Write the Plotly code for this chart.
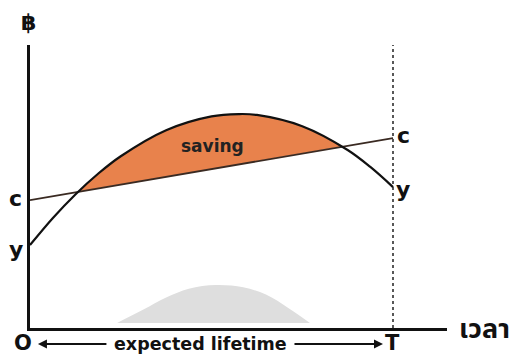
import plotly.graph_objects as go

# life-cycle income vs consumption (arbitrary units)
age_income = [0, 5, 10, 15, 20, 30, 40, 46, 50, 60, 70, 75, 80]
income = [29.3, 38.8, 47.2, 54.5, 60.7, 69.9, 74.8, 75.6, 75.3, 71.3, 62.9, 56.9, 49.8]

age_cons = [0, 80]
consumption = [45.2, 67.1]

# saving region: income above consumption
saving_age = [11, 15, 20, 30, 40, 46, 50, 60, 69]
saving_income = [48.3, 54.5, 60.7, 69.9, 74.8, 75.6, 75.3, 71.3, 64.2]
saving_cons_age = [11, 69]
saving_cons = [48.3, 64.2]

# faint grey watermark hump at the bottom
mark_age = [19.2, 25, 30, 35, 41, 47, 52, 57, 61.7]
mark_val = [1.8, 6.5, 10.8, 13.9, 15.2, 14.4, 11.8, 7.0, 1.8]

T = 80
x_max = 91.9
y_max = 100

FONT = "DejaVu Sans, Verdana, sans-serif"

fig = go.Figure()

fig.add_trace(go.Scatter(x=mark_age, y=mark_val, mode="lines", line=dict(width=0, shape="spline"),
                         fill="toself", fillcolor="#dedede", hoverinfo="skip", showlegend=False))

# saving area
fig.add_trace(go.Scatter(x=saving_cons_age, y=saving_cons, mode="lines", line=dict(width=0),
                         hoverinfo="skip", showlegend=False))
fig.add_trace(go.Scatter(x=saving_age, y=saving_income, mode="lines", line=dict(width=0, shape="spline"),
                         fill="tonexty", fillcolor="#E8824C", hoverinfo="skip", showlegend=False))

# consumption line
fig.add_trace(go.Scatter(x=age_cons, y=consumption, mode="lines",
                         line=dict(color="#3a2a22", width=1.8), name="c", showlegend=False))
# income curve
fig.add_trace(go.Scatter(x=age_income, y=income, mode="lines",
                         line=dict(color="#111111", width=2.2, shape="spline"), name="y", showlegend=False))

# expected lifetime boundary
fig.add_shape(type="line", x0=T, x1=T, y0=0, y1=101, line=dict(color="#222", width=1.5, dash="dot"))

# labels inside the axes
fig.add_annotation(x=82.3, y=68.0, text="<b>c</b>", showarrow=False,
                   font=dict(family=FONT, size=22, color="#111"))
fig.add_annotation(x=82.2, y=48.8, text="<b>y</b>", showarrow=False,
                   font=dict(family=FONT, size=22, color="#111"))
fig.add_annotation(x=40.3, y=64.3, text="<b>saving</b>", showarrow=False,
                   font=dict(family=FONT, size=17, color="#222"))

# labels outside the axes (paper coords)
outside = [
    ("<b>฿</b>", -0.0036, 1.081, 22, FONT),
    ("<b>c</b>", -0.0336, 0.456, 22, FONT),
    ("<b>y</b>", -0.0324, 0.276, 22, FONT),
    ("<b>O</b>", -0.0168, -0.053, 21, FONT),
    ("<b>T</b>", 0.869, -0.053, 21, FONT),
    ("<b>expected lifetime</b>", 0.408, -0.0565, 17.5, FONT),
    ("<b>เวลา</b>", 1.089, -0.007, 27, "Noto Sans Thai, Tahoma, sans-serif"),
]
for txt, x, y, size, fam in outside:
    fig.add_annotation(x=x, y=y, xref="paper", yref="paper", xanchor="center", yanchor="middle",
                       text=txt, showarrow=False, font=dict(family=fam, size=size, color="#111"))

# double arrow under the axis
fig.add_annotation(x=0.019, y=-0.0565, xref="paper", yref="paper", ax=70, ay=0, text="",
                   showarrow=True, arrowhead=2, arrowsize=1, arrowwidth=1.8, arrowcolor="#111")
fig.add_annotation(x=0.8465, y=-0.0565, xref="paper", yref="paper", ax=-90, ay=0, text="",
                   showarrow=True, arrowhead=2, arrowsize=1, arrowwidth=1.8, arrowcolor="#111")

fig.update_xaxes(range=[0, x_max], showline=True, linecolor="#111", linewidth=2.5,
                 showgrid=False, zeroline=False, showticklabels=False, ticks="")
fig.update_yaxes(range=[0, y_max], showline=True, linecolor="#111", linewidth=2.5,
                 showgrid=False, zeroline=False, showticklabels=False, ticks="")

# page body has an 8px margin, so the figure is shrunk and shifted by that much
fig.update_layout(width=509, height=348, margin=dict(l=22, r=70, t=37, b=28),
                  plot_bgcolor="white", paper_bgcolor="white", showlegend=False)

fig.write_html("out.html")
